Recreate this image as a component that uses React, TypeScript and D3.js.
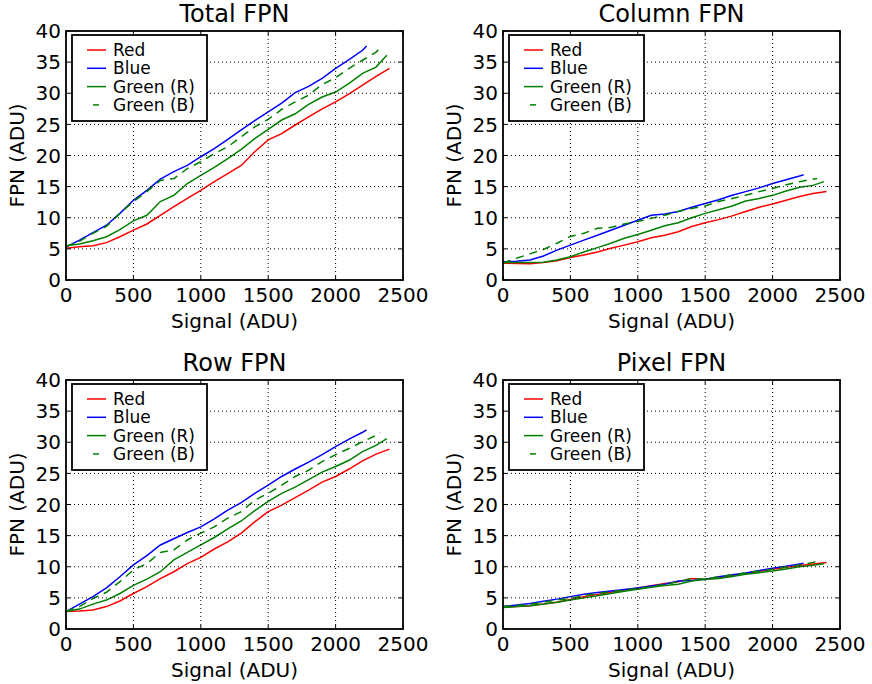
import React from "react";
import * as d3 from "d3";

// ---- data ----
const redSignal = [0, 100, 200, 300, 400, 500, 600, 700, 800, 900, 1000, 1100, 1200, 1300, 1400, 1500, 1600, 1700, 1800, 1900, 2000, 2100, 2200, 2300, 2400];
const blueSignal = [0, 100, 200, 300, 400, 500, 600, 700, 800, 900, 1000, 1100, 1200, 1300, 1400, 1500, 1600, 1700, 1800, 1900, 2000, 2100, 2200, 2230];
const greenRSignal = [0, 100, 200, 300, 400, 500, 600, 700, 800, 900, 1000, 1100, 1200, 1300, 1400, 1500, 1600, 1700, 1800, 1900, 2000, 2100, 2200, 2300, 2380];
const greenBSignal = [0, 100, 200, 300, 400, 500, 600, 700, 800, 900, 1000, 1100, 1200, 1300, 1400, 1500, 1600, 1700, 1800, 1900, 2000, 2100, 2200, 2300, 2330];

const totalRed = [5.1, 5.35, 5.5, 6.0, 6.95, 8.0, 9.0, 10.4, 11.8, 13.1, 14.4, 15.8, 17.1, 18.4, 20.6, 22.5, 23.5, 24.9, 26.2, 27.5, 28.6, 29.9, 31.3, 32.7, 34.0];
const totalBlue = [5.3, 6.4, 7.6, 8.8, 10.7, 12.8, 14.4, 16.2, 17.4, 18.4, 19.8, 21.1, 22.6, 24.1, 25.6, 27.0, 28.4, 30.1, 31.1, 32.4, 34.0, 35.4, 36.9, 37.6];
const totalGreenR = [5.5, 5.8, 6.3, 6.95, 8.1, 9.5, 10.4, 12.6, 13.6, 15.5, 16.8, 18.1, 19.5, 21.0, 22.7, 24.2, 25.7, 26.7, 28.2, 29.4, 30.2, 31.6, 33.2, 34.2, 36.1];
const totalGreenB = [5.4, 6.2, 7.5, 8.6, 10.7, 12.6, 14.2, 16.0, 16.3, 17.9, 19.0, 20.3, 21.4, 23.0, 24.6, 25.8, 27.4, 28.6, 29.7, 31.4, 32.5, 34.0, 35.3, 36.6, 37.3];

const columnRed = [2.7, 2.65, 2.6, 2.8, 3.1, 3.6, 4.0, 4.5, 5.1, 5.6, 6.15, 6.8, 7.2, 7.75, 8.6, 9.2, 9.7, 10.3, 11.0, 11.7, 12.2, 12.8, 13.4, 13.9, 14.2];
const columnBlue = [2.95, 3.0, 3.2, 3.85, 4.8, 5.6, 6.4, 7.2, 8.0, 8.8, 9.6, 10.4, 10.6, 11.0, 11.7, 12.3, 12.9, 13.6, 14.2, 14.8, 15.5, 16.1, 16.7, 16.9];
const columnGreenR = [2.8, 2.8, 2.8, 2.85, 3.2, 3.75, 4.5, 5.2, 5.9, 6.7, 7.3, 8.0, 8.7, 9.2, 10.0, 10.7, 11.3, 11.9, 12.7, 13.1, 13.6, 14.3, 14.9, 15.2, 15.8];
const columnGreenB = [2.7, 3.5, 4.2, 4.9, 5.9, 7.0, 7.5, 8.3, 8.45, 9.0, 9.4, 9.9, 10.4, 11.0, 11.5, 11.9, 12.6, 13.1, 13.6, 14.2, 14.7, 15.3, 15.8, 16.2, 16.3];

const rowRed = [2.8, 2.9, 3.05, 3.6, 4.5, 5.7, 6.8, 8.1, 9.2, 10.5, 11.5, 12.85, 14.0, 15.4, 17.2, 18.85, 19.9, 21.1, 22.3, 23.6, 24.5, 25.7, 27.0, 28.1, 28.9];
const rowBlue = [2.8, 4.0, 5.2, 6.6, 8.4, 10.3, 11.8, 13.5, 14.5, 15.5, 16.4, 17.7, 19.1, 20.3, 21.8, 23.1, 24.5, 25.7, 26.8, 28.0, 29.3, 30.5, 31.6, 32.0];
const rowGreenR = [2.8, 3.2, 4.0, 4.65, 5.7, 7.0, 8.0, 9.2, 11.1, 12.3, 13.5, 14.7, 16.1, 17.35, 19.0, 20.5, 21.8, 22.8, 24.0, 25.2, 26.1, 27.1, 28.5, 29.5, 30.6];
const rowGreenB = [2.8, 3.6, 4.9, 5.9, 7.6, 9.5, 10.5, 12.3, 12.7, 14.3, 15.4, 16.4, 17.8, 18.85, 20.7, 21.8, 23.1, 24.5, 25.5, 26.9, 28.0, 29.0, 30.1, 31.1, 31.6];

const pixelRed = [3.5, 3.6, 3.75, 4.0, 4.3, 4.75, 5.2, 5.55, 5.9, 6.25, 6.6, 6.95, 7.3, 7.6, 8.1, 8.0, 8.2, 8.55, 8.9, 9.25, 9.6, 9.9, 10.2, 10.45, 10.7];
const pixelBlue = [3.6, 3.85, 4.1, 4.45, 4.8, 5.2, 5.6, 5.85, 6.1, 6.35, 6.6, 6.9, 7.2, 7.7, 7.8, 8.0, 8.4, 8.7, 9.0, 9.4, 9.75, 10.1, 10.45, 10.55];
const pixelGreenR = [3.45, 3.6, 3.75, 4.0, 4.3, 4.65, 5.0, 5.35, 5.7, 6.05, 6.4, 6.7, 7.0, 7.2, 7.7, 8.0, 8.1, 8.45, 8.8, 9.05, 9.3, 9.65, 10.0, 10.25, 10.5];
const pixelGreenB = [3.6, 3.75, 3.95, 4.3, 4.65, 4.9, 5.35, 5.7, 6.0, 6.25, 6.5, 6.8, 7.15, 7.6, 8.1, 8.0, 8.4, 8.7, 9.0, 9.3, 9.6, 9.95, 10.3, 10.7, 10.9];

const xTicks = [0, 500, 1000, 1500, 2000, 2500];
const yTicks = [0, 5, 10, 15, 20, 25, 30, 35, 40];
const seriesNames = ["Red", "Blue", "Green (R)", "Green (B)"];
const panelTitles = ["Total FPN", "Column FPN", "Row FPN", "Pixel FPN"];

// ---- styling / layout ----
const FONT = "DejaVu Sans, sans-serif";
const W = 872, H = 684;
const PW = 337, PH = 249;
const panelPos = [
  { left: 66, top: 31 },
  { left: 503, top: 31 },
  { left: 66, top: 380 },
  { left: 503, top: 380 },
];
const seriesStyle = [
  { color: "#ff0000", dash: undefined },
  { color: "#0000ff", dash: undefined },
  { color: "#008000", dash: undefined },
  { color: "#008000", dash: "8,6" },
];
const signals = [redSignal, blueSignal, greenRSignal, greenBSignal];
const panelData = [
  [totalRed, totalBlue, totalGreenR, totalGreenB],
  [columnRed, columnBlue, columnGreenR, columnGreenB],
  [rowRed, rowBlue, rowGreenR, rowGreenB],
  [pixelRed, pixelBlue, pixelGreenR, pixelGreenB],
];

function Panel({ idx }: { idx: number }) {
  const { left, top } = panelPos[idx];
  const x = d3.scaleLinear().domain([0, 2500]).range([left, left + PW]);
  const y = d3.scaleLinear().domain([0, 40]).range([top + PH, top]);
  const line = d3
    .line<[number, number]>()
    .x((d) => x(d[0]))
    .y((d) => y(d[1]));
  const bottom = top + PH;
  const right = left + PW;
  const legX = left + 6, legY = top + 4, legW = 135, legH = 86;
  return (
    <g>
      {/* data lines */}
      {panelData[idx].map((vals, s) => (
        <path
          key={s}
          d={line(vals.map((v, i) => [signals[s][i], v] as [number, number])) || ""}
          fill="none"
          stroke={seriesStyle[s].color}
          strokeWidth={1.5}
          strokeDasharray={seriesStyle[s].dash}
        />
      ))}
      {/* grid */}
      {xTicks.slice(1, -1).map((t) => (
        <line key={"gx" + t} x1={x(t)} x2={x(t)} y1={top} y2={bottom} stroke="#000" strokeWidth={1} strokeDasharray="1,3" />
      ))}
      {yTicks.slice(1, -1).map((t) => (
        <line key={"gy" + t} x1={left} x2={right} y1={y(t)} y2={y(t)} stroke="#000" strokeWidth={1} strokeDasharray="1,3" />
      ))}
      {/* ticks inward on all sides */}
      {xTicks.map((t) => (
        <g key={"tx" + t}>
          <line x1={x(t)} x2={x(t)} y1={bottom} y2={bottom - 4} stroke="#000" strokeWidth={1} />
          <line x1={x(t)} x2={x(t)} y1={top} y2={top + 4} stroke="#000" strokeWidth={1} />
          <text x={x(t)} y={bottom + 22} textAnchor="middle" fontFamily={FONT} fontSize={20} fill="#000">
            {t}
          </text>
        </g>
      ))}
      {yTicks.map((t) => (
        <g key={"ty" + t}>
          <line x1={left} x2={left + 4} y1={y(t)} y2={y(t)} stroke="#000" strokeWidth={1} />
          <line x1={right} x2={right - 4} y1={y(t)} y2={y(t)} stroke="#000" strokeWidth={1} />
          <text x={left - 5} y={y(t)} dy="0.36em" textAnchor="end" fontFamily={FONT} fontSize={20} fill="#000">
            {t}
          </text>
        </g>
      ))}
      {/* frame */}
      <rect x={left} y={top} width={PW} height={PH} fill="none" stroke="#000" strokeWidth={1.8} />
      {/* labels */}
      <text x={(left + right) / 2} y={top - 9} textAnchor="middle" fontFamily={FONT} fontSize={24} fill="#000">
        {panelTitles[idx]}
      </text>
      <text x={(left + right) / 2} y={bottom + 48} textAnchor="middle" fontFamily={FONT} fontSize={20} fill="#000">
        Signal (ADU)
      </text>
      <text
        transform={`translate(${left - 42},${(top + bottom) / 2}) rotate(-90)`}
        textAnchor="middle"
        fontFamily={FONT}
        fontSize={20}
        fill="#000"
      >
        FPN (ADU)
      </text>
      {/* legend */}
      <rect x={legX} y={legY} width={legW} height={legH} fill="#fff" stroke="#000" strokeWidth={1.8} />
      {seriesNames.map((name, s) => {
        const ly = legY + 15 + s * 18.3;
        return (
          <g key={name}>
            {seriesStyle[s].dash ? (
              <line x1={legX + 21} x2={legX + 27} y1={ly} y2={ly} stroke={seriesStyle[s].color} strokeWidth={1.5} />
            ) : (
              <line x1={legX + 15} x2={legX + 34} y1={ly} y2={ly} stroke={seriesStyle[s].color} strokeWidth={1.5} />
            )}
            <text x={legX + 41} y={ly} dy="0.36em" fontFamily={FONT} fontSize={17} fill="#000">
              {name}
            </text>
          </g>
        );
      })}
    </g>
  );
}

export default function App() {
  return (
    <svg
      width={W}
      height={H}
      viewBox={`0 0 ${W} ${H}`}
      style={{ position: "absolute", left: 0, top: 0, background: "#fff" }}
    >
      <rect x={0} y={0} width={W} height={H} fill="#fff" />
      {[0, 1, 2, 3].map((i) => (
        <Panel key={i} idx={i} />
      ))}
    </svg>
  );
}
